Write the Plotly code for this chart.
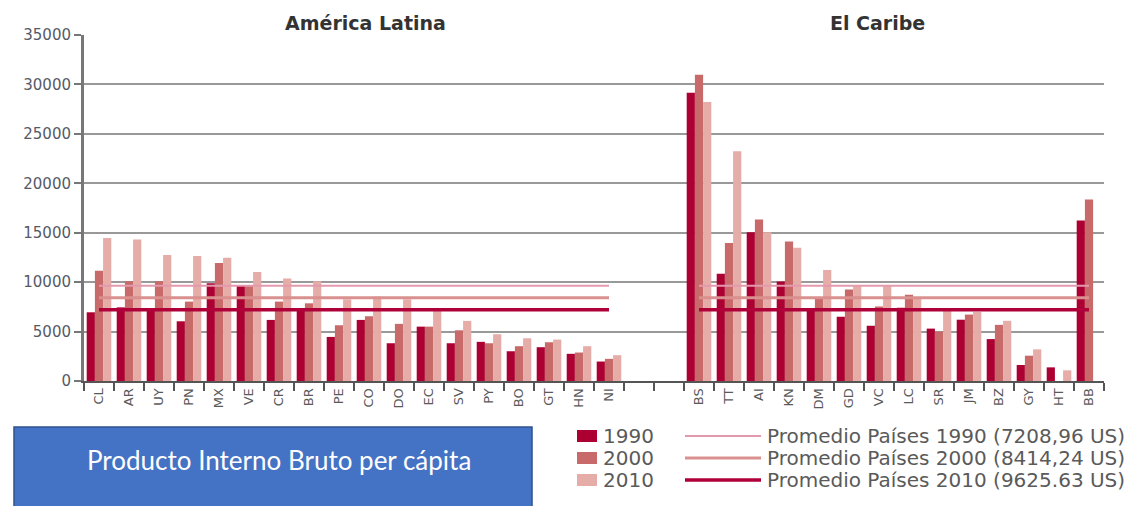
import plotly.graph_objects as go

# PIB per cápita (US$)
latam = ["CL", "AR", "UY", "PN", "MX", "VE", "CR", "BR", "PE",
         "CO", "DO", "EC", "SV", "PY", "BO", "GT", "HN", "NI"]
caribe = ["BS", "TT", "AI", "KN", "DM", "GD", "VC", "LC", "SR",
          "JM", "BZ", "GY", "HT", "BB"]

latam_1990 = [6950, 7450, 7190, 6040, 9880, 9610, 6180, 7190, 4460,
              6180, 3820, 5500, 3820, 3960, 3010, 3420, 2750, 1970]
latam_2000 = [11160, 10080, 10080, 8030, 11940, 9600, 8030, 7860, 5640,
              6550, 5780, 5500, 5130, 3820, 3520, 3920, 2880, 2240]
latam_2010 = [14460, 14320, 12750, 12640, 12470, 11030, 10380, 10080, 8260,
              8530, 8260, 7120, 6080, 4730, 4320, 4190, 3520, 2610]

caribe_1990 = [29160, 10840, 15050, 10070, 7240, 6500, 5590, 7410, 5300,
               6200, 4240, 1620, 1380, 16230]
caribe_2000 = [30980, 13970, 16330, 14110, 8450, 9260, 7540, 8720, 5000,
               6720, 5680, 2560, None, 18350]
caribe_2010 = [28210, 23230, 15050, 13470, 11240, 9630, 9630, 8310, 7080,
               7000, 6090, 3200, 1080, None]

years = ["1990", "2000", "2010"]
avg_values = [7208.96, 8414.24, 9625.63]
avg_labels = ["Promedio Países 1990 (7208,96 US)",
              "Promedio Países 2000 (8414,24 US)",
              "Promedio Países 2010 (9625.63 US)"]

bar_colors = ["#AC0033", "#C96A6A", "#E5ACA8"]
# estilos de línea tal como aparecen en la leyenda (fila 1, 2, 3)
line_styles = [("#E49AAE", 2), ("#D9908E", 3), ("#B0003A", 3.5)]

gap = [" ", "  "]
x_cats = latam + gap + caribe
series = [
    latam_1990 + [None, None] + caribe_1990,
    latam_2000 + [None, None] + caribe_2000,
    latam_2010 + [None, None] + caribe_2010,
]

# pixel -> paper helpers (plot area 84..1104 x 35..381)
L, R, T, B = 84, 1104, 35, 381


def px(x):
    return (x - L) / (R - L)


def py(y):
    return (B - y) / (B - T)


fig = go.Figure()

for year, vals, color in zip(years, series, bar_colors):
    fig.add_trace(go.Bar(x=x_cats, y=vals, name=year, marker_color=color,
                         marker_line_width=0, showlegend=False))

# en el original, la línea fina rosa queda arriba y la gruesa oscura abajo
for val, (color, width) in zip(avg_values, reversed(line_styles)):
    for first, last in [(latam[0], latam[-1]), (caribe[0], caribe[-1])]:
        fig.add_trace(go.Scatter(x=[first, last], y=[val, val], mode="lines",
                                 line=dict(color=color, width=width),
                                 showlegend=False, hoverinfo="skip"))

shapes = []
annotations = []


def label(text, x, y, size, color, anchor="center", family="DejaVu Sans"):
    annotations.append(dict(text=text, x=px(x), y=py(y), xref="paper",
                            yref="paper", showarrow=False, xanchor=anchor,
                            yanchor="middle",
                            font=dict(family=family, size=size, color=color)))


# titulos
label("<b>América Latina</b>", 365, 23, 19, "#333333")
label("<b>El Caribe</b>", 877, 23, 19, "#333333")

# caja azul
shapes.append(dict(type="rect", xref="paper", yref="paper",
                   x0=px(14), x1=px(532), y0=py(515), y1=py(427),
                   fillcolor="#4472C4", line=dict(color="#2F528F", width=1.5)))
label("Producto Interno Bruto per cápita", 279, 460, 26, "white",
      family="Lato")

# leyenda manual
rows = [436, 458, 480]
for i, yy in enumerate(rows):
    shapes.append(dict(type="rect", xref="paper", yref="paper",
                       x0=px(577), x1=px(597), y0=py(yy + 6), y1=py(yy - 6),
                       fillcolor=bar_colors[i], line=dict(width=0)))
    label(years[i], 601, yy, 20, "#5a5a5a", anchor="left")
    color, width = line_styles[i]
    shapes.append(dict(type="line", xref="paper", yref="paper",
                       x0=px(685), x1=px(761), y0=py(yy), y1=py(yy),
                       line=dict(color=color, width=width)))
    label(avg_labels[i], 765, yy, 20, "#5a5a5a", anchor="left")

fig.update_layout(
    width=1135, height=506,
    margin=dict(l=L, r=1135 - R, t=T, b=506 - B),
    paper_bgcolor="white", plot_bgcolor="white",
    barmode="group", bargap=0.18, bargroupgap=0,
    shapes=shapes, annotations=annotations,
    font=dict(family="DejaVu Sans", color="#555a66"),
)
fig.update_xaxes(
    type="category", categoryorder="array", categoryarray=x_cats,
    tickangle=-90, tickfont=dict(size=13, color="#5a5a5a"),
    ticks="outside", tickson="boundaries", ticklen=8, tickwidth=2,
    tickcolor="#555555", showline=True, linecolor="#555555", linewidth=2,
    showgrid=False,
)
fig.update_yaxes(
    range=[0, 35000], dtick=5000, tickformat="d",
    tickfont=dict(size=15, color="#555a66"),
    ticks="outside", ticklen=7, tickwidth=2, tickcolor="#777777",
    showline=True, linecolor="#777777", linewidth=3,
    showgrid=True, gridcolor="#999999", gridwidth=2, zeroline=False,
)

fig.write_html("out.html", config={"displayModeBar": False},
               post_script="document.body.style.margin = '0';")
